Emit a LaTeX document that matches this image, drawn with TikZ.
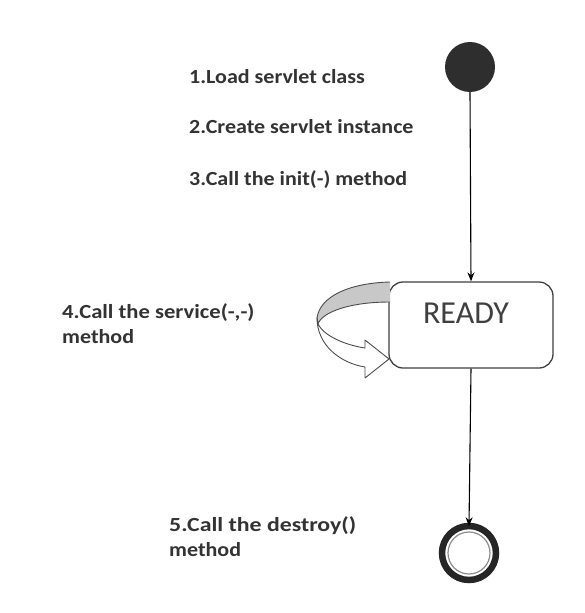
\documentclass[tikz,border=0pt]{standalone}
\usepackage{fontspec}
\setmainfont{Carlito}
\usetikzlibrary{arrows.meta}
\definecolor{txt}{HTML}{333333}
\definecolor{band}{HTML}{C8C8C8}
\newcommand{\widetext}[2][1.1]{\scalebox{#1}[1]{#2}}
\begin{document}
\begin{tikzpicture}[x=1pt,y=-1pt,
  step label/.style={anchor=base west,inner sep=0pt,font=\fontsize{20}{24}\selectfont\bfseries,text=txt},
  flow/.style={line width=1.1pt,-{Stealth[length=9pt,width=7pt]}},
  state/.style={draw=black!75,line width=1.3pt,rounded corners=14pt,fill=white}]
\useasboundingbox[fill=white] (0,0) rectangle (584,613);

% start and end states
\node[circle,fill=black!82,minimum size=50pt,inner sep=0pt] (start) at (470,67) {};
\node[state,minimum width=164pt,minimum height=86pt] (ready) at (471,325) {};
\node[anchor=base,inner sep=0pt,font=\fontsize{32}{36}\selectfont,text=black!75] (readytxt) at (466,323) {READY};
\node[circle,draw=black!85,line width=6.5pt,minimum size=54pt,inner sep=0pt] (final) at (469,553) {};
\node[circle,draw=black!45,line width=1.2pt,minimum size=42pt,inner sep=0pt] (finalin) at (469,553) {};

% transitions
\draw[flow] (start.south) -- (ready.north);
\draw[flow] (ready.south) -- ([yshift=-3.5pt]final.north);

% step labels
\node[step label] (s1) at (189,83) {\widetext{1.Load servlet class}};
\node[step label] (s2) at (189,133) {\widetext{2.Create servlet instance}};
\node[step label] (s3) at (189,185) {\widetext{3.Call the init(-) method}};
\node[step label] (s4a) at (62,318) {\widetext[1.13]{4.Call the service(-,-)}};
\node[step label] (s4b) at (62,343) {\widetext{method}};
\node[step label] (s5a) at (169,531) {\widetext[1.19]{5.Call the destroy()}};
\node[step label] (s5b) at (169,556) {\widetext{method}};

% self-loop ribbon arrow on the ready state
\fill[band,draw=black!70,line width=0.9pt]
  (390,282) .. controls (350,283) and (320,296) .. (317,318)
  -- (318,324)
  .. controls (322,312) and (350,302) .. (390,302);
\draw[fill=white,draw=black!70,line width=0.9pt,line join=round]
  (317,318) .. controls (317,345) and (340,363) .. (365,367)
  -- (365,378) -- (389,359) -- (365,340) -- (365,348)
  .. controls (345,345) and (324,336) .. (318,324) -- cycle;
\end{tikzpicture}
\end{document}
